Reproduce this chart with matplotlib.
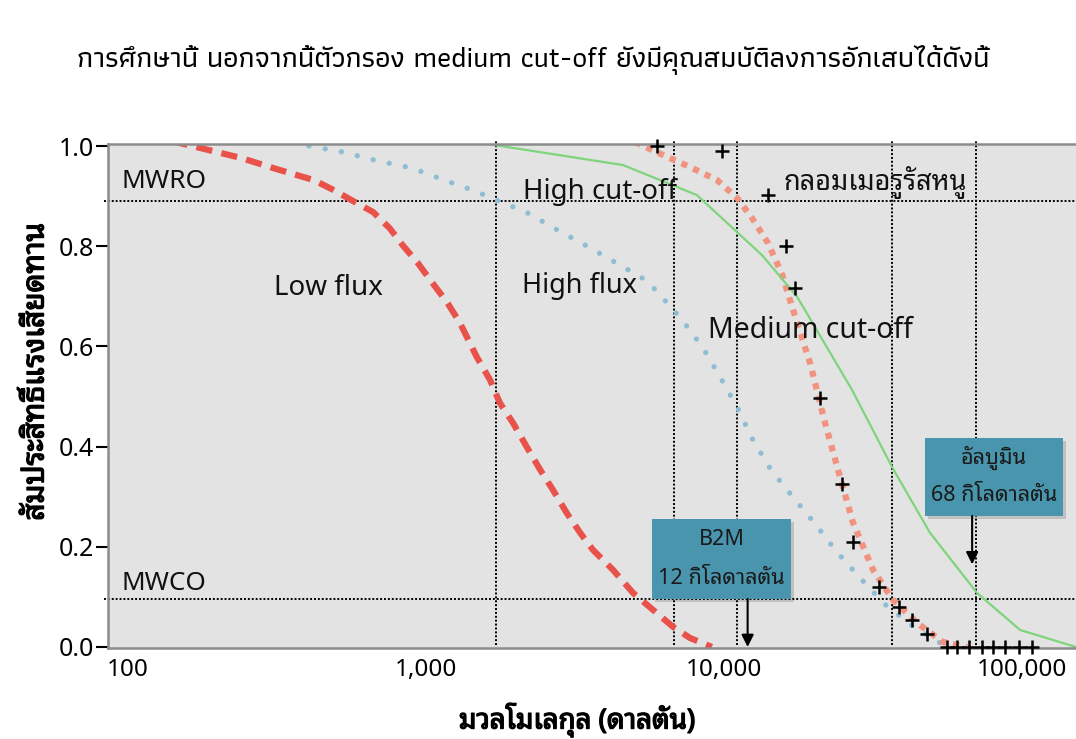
import matplotlib
matplotlib.use("Agg")
import matplotlib.pyplot as plt
import matplotlib.patheffects as pe
from matplotlib.patches import Rectangle
from matplotlib.ticker import NullLocator

# ---- data -------------------------------------------------------------
low_flux_mw = [140, 175, 240, 315, 420, 490, 570, 665, 755, 835, 940, 1050,
               1180, 1300, 1480, 1640, 1770, 1960, 2180, 2420, 2670, 2970,
               3290, 3630, 4240, 4950, 5780, 6750, 7690, 9100]
low_flux_sc = [1.01, 0.996, 0.976, 0.954, 0.932, 0.912, 0.890, 0.868, 0.836,
               0.802, 0.766, 0.727, 0.687, 0.647, 0.579, 0.533, 0.487, 0.447,
               0.399, 0.353, 0.313, 0.267, 0.228, 0.194, 0.154, 0.108, 0.074,
               0.040, 0.018, 0.0]

high_flux_mw = [405, 526, 690, 898, 1150, 1490, 1690, 2170, 2730, 3470, 4370,
                5510, 6050, 7230, 8500, 9700, 11150, 12500, 14400, 17050,
                20200, 23900, 28600, 34200, 42400, 53100]
high_flux_sc = [1.0, 0.988, 0.970, 0.956, 0.932, 0.908, 0.894, 0.868, 0.834,
                0.800, 0.766, 0.731, 0.705, 0.653, 0.597, 0.539, 0.475, 0.413,
                0.353, 0.299, 0.246, 0.190, 0.138, 0.088, 0.044, 0.008]

high_cut_mw = [5020, 6240, 7690, 9480, 11070, 12420, 14060, 15670, 17590,
               19440, 21830, 24510, 27100, 31620, 36900, 44440, 54300, 65400]
high_cut_sc = [1.008, 0.982, 0.958, 0.932, 0.896, 0.856, 0.806, 0.743, 0.647,
               0.567, 0.447, 0.339, 0.248, 0.154, 0.094, 0.048, 0.010, 0.0]

medium_mw = [1460, 4580, 8110, 13420, 17590, 26900, 36640, 49100, 70600,
             98500, 151700]
medium_sc = [1.008, 0.962, 0.902, 0.782, 0.699, 0.513, 0.359, 0.228, 0.108,
             0.034, 0.0]

rat_mw = [5960, 9840, 14060, 16160, 17310, 20990, 24900, 27100, 33130, 38640,
          42740, 47990, 56000, 60500, 66400, 73400, 80000, 87700, 97700,
          108200]
rat_sc = [1.0, 0.99, 0.902, 0.80, 0.717, 0.497, 0.325, 0.21, 0.12, 0.08,
          0.054, 0.026, 0.0, 0.0, 0.0, 0.0, 0.0, 0.0, 0.0, 0.0]

cutoff_marks = [1718, 6793, 11070, 36640, 70150]
MWRO = 0.89
MWCO = 0.095
B2M_MW = 12000
ALBUMIN_MW = 68000

x_ticks = [100, 1000, 10000, 100000]
x_tick_labels = ["100", "1,000", "10,000", "100,000"]
y_ticks = [0.0, 0.2, 0.4, 0.6, 0.8, 1.0]
y_tick_labels = ["0.0", "0.2", "0.4", "0.6", "0.8", "1.0"]

# ---- fonts ------------------------------------------------------------
LABEL_FONT = ["Noto Sans Thai Looped", "Noto Sans Thai", "DejaVu Sans"]
HEAD_FONT = ["Athiti", "Noto Sans Thai", "DejaVu Sans"]
plt.rcParams["font.family"] = LABEL_FONT

W, H = 1076, 739
fig = plt.figure(figsize=(W / 100, H / 100), dpi=100)
fig.patch.set_facecolor("white")
renderer = fig.canvas.get_renderer()
heavy = [pe.withStroke(linewidth=1.0, foreground="black")]


def fxy(px, py):
    return px / W, 1 - py / H


def fit(t, target, vertical=False):
    """Scale a text's font so its drawn extent spans `target` pixels."""
    for _ in range(2):
        bb = t.get_window_extent(renderer)
        size = bb.height if vertical else bb.width
        t.set_fontsize(t.get_fontsize() * target / size)
    return t


ax = fig.add_axes([108 / W, 1 - 648 / H, 968 / W, 504 / H])
ax.set_facecolor("#e3e3e3")
ax.set_xscale("log")
ax.set_xlim(85.7, 151700)
ax.set_ylim(-0.002, 1.004)

for side in ("left", "top", "bottom"):
    ax.spines[side].set_color("#8c8c8c")
    ax.spines[side].set_linewidth(1.8)
ax.spines["right"].set_visible(False)

ax.set_xticks(x_ticks, x_tick_labels)
ax.xaxis.set_minor_locator(NullLocator())
ax.tick_params(axis="x", length=0, pad=7, labelsize=17.5)
ax.set_yticks(y_ticks, y_tick_labels)
ax.tick_params(axis="y", length=9, width=1.5, color="black", pad=1,
               labelsize=18)

# reference lines for retention onset / cut-off
dot = (0, (1, 1))
for v in cutoff_marks:
    ax.axvline(v, ymin=0.005, ymax=1.008, color="black", lw=1.4, ls=dot,
               clip_on=False, zorder=1.5)
for level in (MWRO, MWCO):
    ax.axhline(level, xmin=-0.004, xmax=1, color="black", lw=1.4, ls=dot,
               clip_on=False, zorder=1.5)

# sieving curves
ax.plot(low_flux_mw, low_flux_sc, color="#e8524a", lw=4.5,
        ls=(0, (2.6, 1.5)), zorder=2)
ax.plot(high_flux_mw, high_flux_sc, color="#8fbdd4", lw=3.8,
        ls=(0, (0.01, 3.1)), dash_capstyle="round", zorder=2)
ax.plot(high_cut_mw, high_cut_sc, color="#f2937f", lw=4.5,
        ls=(0, (1, 1.05)), zorder=2)
ax.plot(medium_mw, medium_sc, color="#7fd47c", lw=1.6, zorder=2)
ax.plot(rat_mw, rat_sc, ls="none", marker="+", color="black", ms=10,
        mew=1.8, clip_on=False, zorder=3)

# curve labels: text, x, y, width in pixels, anchor
labels = [
    ("MWRO", 122, 181, 85, "left"),
    ("MWCO", 122, 584, 85, "left"),
    ("Low flux", 328, 288, 109, "center"),
    ("High flux", 580, 286, 115, "center"),
    ("High cut-off", 600, 192, 154, "center"),
    ("Medium cut-off", 810, 330, 205, "center"),
    ("กลอมเมอรูรัสหนู", 875, 183, 184, "center"),
]
for text, px, py, width, ha in labels:
    t = fig.text(*fxy(px, py), text, ha=ha, va="center", fontsize=17,
                 color="#111111", zorder=5)
    fit(t, width)

# marker boxes
box_color = "#4895ad"


def marker_box(x0, y0, x1, y1, line1, line2, w2):
    ax0, ay0 = (x0 - 108) / 968, (648 - y1) / 504
    aw, ah = (x1 - x0) / 968, (y1 - y0) / 504
    ax.add_patch(Rectangle((ax0 + 0.003, ay0 - 0.006), aw, ah,
                           transform=ax.transAxes, color="black", alpha=0.15,
                           lw=0, zorder=3.5))
    ax.add_patch(Rectangle((ax0, ay0), aw, ah, transform=ax.transAxes,
                           color=box_color, lw=0, zorder=3.6))
    cx = (x0 + x1) / 2
    t1 = fig.text(*fxy(cx, y0 + (y1 - y0) * 0.26), line1, ha="center",
                  va="center", fontsize=13, color="#1a1a1a", zorder=6)
    t2 = fig.text(*fxy(cx, y0 + (y1 - y0) * 0.74), line2, ha="center",
                  va="center", fontsize=13, color="#1a1a1a", zorder=6)
    fit(t2, w2)
    t1.set_fontsize(t2.get_fontsize())
    return ay0


b2m_bottom = marker_box(652, 519, 791, 599, "B2M", "12 กิโลดาลตัน", 127)
alb_bottom = marker_box(925, 438, 1063, 516, "อัลบูมิน", "68 กิโลดาลตัน", 126)

arrow = dict(arrowstyle="-|>", color="black", lw=1.5, mutation_scale=18,
             shrinkA=0, shrinkB=0)
ax.annotate("", xy=(B2M_MW, 0.0), xytext=(B2M_MW, b2m_bottom),
            textcoords=("data", "axes fraction"), arrowprops=arrow,
            zorder=4, annotation_clip=False)
ax.annotate("", xy=(ALBUMIN_MW, 0.165), xytext=(ALBUMIN_MW, alb_bottom),
            textcoords=("data", "axes fraction"), arrowprops=arrow,
            zorder=4, annotation_clip=False)

# axis titles (stroked for a heavier weight)
xl = fig.text(*fxy(577, 720), "มวลโมเลกุล (ดาลตัน)", ha="center",
              va="center", fontsize=17, color="black", path_effects=heavy)
fit(xl, 236)
yl = fig.text(*fxy(36, 372), "สัมประสิทธิ์แรงเสียดทาน", ha="center",
              va="center", rotation=90, fontsize=17, color="black",
              path_effects=heavy)
fit(yl, 298, vertical=True)

# heading sentence
hd = fig.text(*fxy(533, 60),
              "การศึกษานี้ นอกจากนี้ตัวกรอง medium cut-off ยังมีคุณสมบัติลงการอักเสบได้ดังนี้",
              ha="center", va="center", fontsize=21, color="black",
              fontweight="medium", family=HEAD_FONT)
fit(hd, 912)

fig.savefig("out.png", dpi=100)
